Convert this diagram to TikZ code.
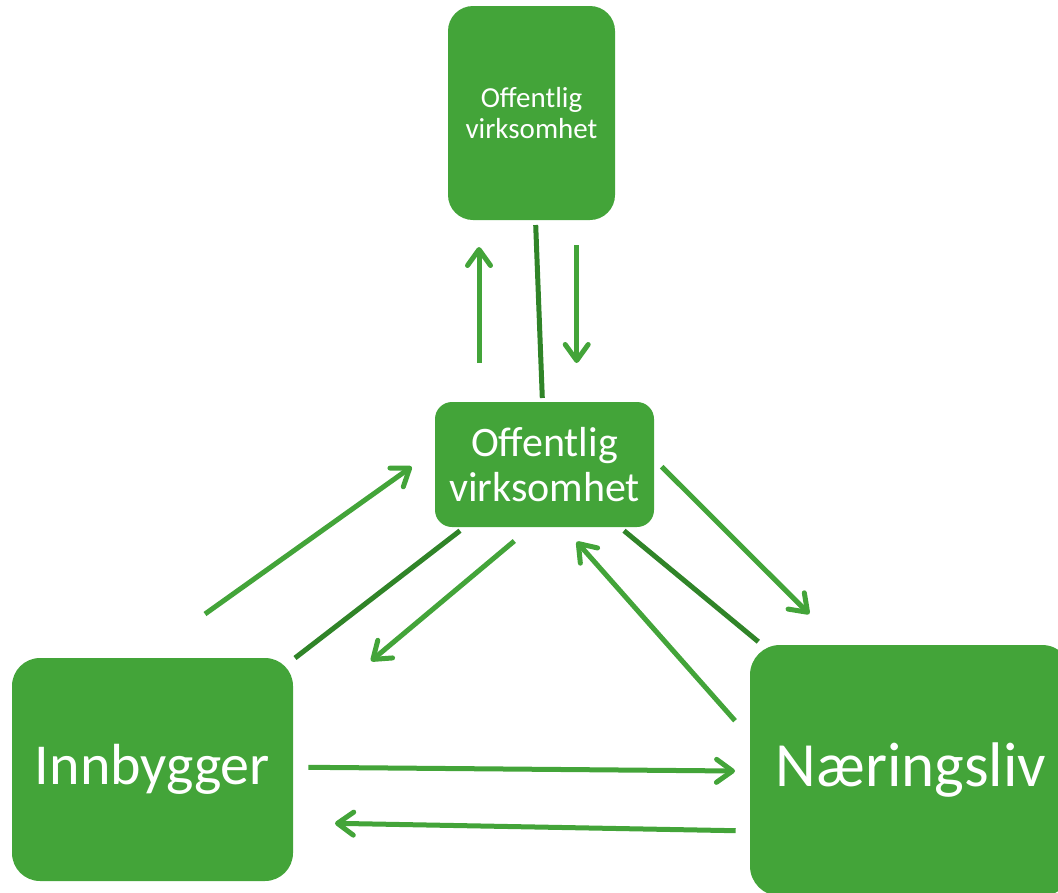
\documentclass[tikz,border=0pt]{standalone}
\usepackage{fontspec}
\setmainfont{Carlito}
\usetikzlibrary{arrows.meta}
\definecolor{leafgreen}{RGB}{67,164,57}
\definecolor{darkleaf}{RGB}{48,132,40}

\begin{document}
\begin{tikzpicture}[x=1pt,y=-1pt,
  >={Straight Barb[length=16pt,width=23pt,round]},
  box node/.style={rectangle,fill=leafgreen,text=white,inner sep=0pt,align=center},
  flow/.style={->,draw=leafgreen,line width=5pt},
  link/.style={draw=darkleaf,line width=5pt}]

  \useasboundingbox (0,0) rectangle (1058,892);
  \begin{scope}
  \clip (0,0) rectangle (1058,892);
  \node[box node,minimum width=167pt,minimum height=214pt,rounded corners=25pt,
    font=\fontsize{29}{31}\selectfont] (top) at (531.5,113) {Offentlig\\virksomhet};
  \node[box node,minimum width=219pt,minimum height=125pt,rounded corners=17pt,
    font=\fontsize{42}{45}\selectfont] (mid) at (544.5,464.5) {Offentlig\\virksomhet};
  \node[box node,minimum width=281pt,minimum height=223pt,rounded corners=28pt,
    font=\fontsize{58}{60}\selectfont] (inn) at (152.5,769.5) {Innbygger};
  \node[box node,minimum width=322pt,minimum height=251pt,rounded corners=30pt,
    font=\fontsize{63}{66}\selectfont] (naer) at (911,770.5) {Næringsliv};
  \end{scope}

  % top <-> mid
  \draw[flow] ([shift={(-65.5,-101.5)}]mid.center) -- ([shift={(-52.5,134)}]top.center);
  \draw[flow] ([shift={(45.2,132)}]top.center) -- ([shift={(32.2,-101.5)}]mid.center);
  \draw[link] ([shift={(4.2,112)}]top.center) -- ([shift={(-2.2,-66.5)}]mid.center);

  % inn <-> mid
  \draw[flow] ([shift={(52.5,-155.5)}]inn.center) -- ([shift={(-132.8,2.2)}]mid.center);
  \draw[link] ([shift={(-84.5,66.2)}]mid.center) -- ([shift={(142.5,-111.5)}]inn.center);
  \draw[flow] ([shift={(-30.2,76.5)}]mid.center) -- ([shift={(218.5,-108.5)}]inn.center);

  % mid <-> naer
  \draw[flow] ([shift={(117.2,2.2)}]mid.center) -- ([shift={(-101.7,-156.5)}]naer.center);
  \draw[link] ([shift={(79.5,66.2)}]mid.center) -- ([shift={(-152.7,-128.8)}]naer.center);
  \draw[flow] ([shift={(-176,-49.8)}]naer.center) -- ([shift={(32.2,77.2)}]mid.center);

  % inn <-> naer
  \draw[flow] ([shift={(155.8,-2.2)}]inn.center) -- ([shift={(-176,0.5)}]naer.center);
  \draw[flow] ([shift={(-175.3,60.2)}]naer.center) -- ([shift={(182.5,53.8)}]inn.center);
\end{tikzpicture}
\end{document}
